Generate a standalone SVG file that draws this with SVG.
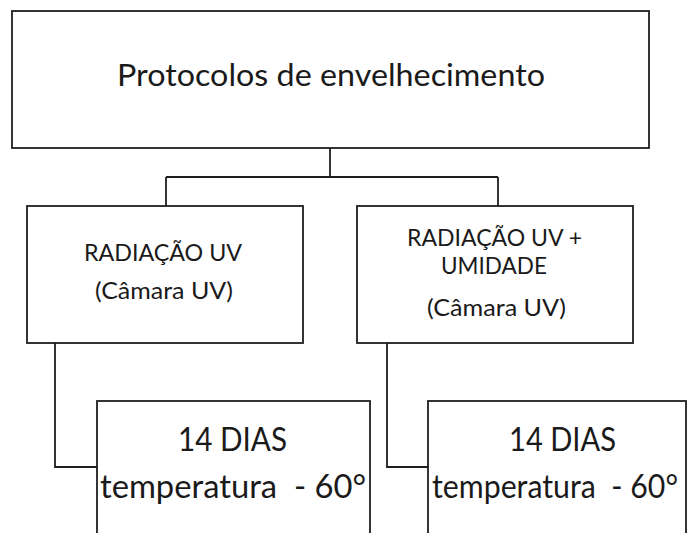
<svg xmlns="http://www.w3.org/2000/svg" width="690" height="533" viewBox="0 0 690 533">
  <style>
    .box { fill: #ffffff; stroke: #1e1e1e; stroke-width: 1.8; }
    .conn { fill: none; stroke: #1e1e1e; stroke-width: 1.8; }
    text { font-family: Lato, "Open Sans", "Liberation Sans", sans-serif; fill: #1a1a1a; white-space: pre; }
    .t1 { font-size: 31px; }
    .t2 { font-size: 24px; }
    .t3 { font-size: 32px; }
  </style>
  <rect width="690" height="533" fill="#ffffff"/>
  <g id="connectors">
    <path class="conn" d="M330,148 V177 M166,177 H498 M166,177 V206 M498,177 V206"/>
    <path class="conn" d="M55,343 V467 H97"/>
    <path class="conn" d="M387,343 V467 H428"/>
  </g>
  <g id="node-protocolos">
    <rect class="box" x="12" y="11" width="637" height="137"/>
    <text class="t1" x="117" y="86" textLength="428" lengthAdjust="spacingAndGlyphs">Protocolos de envelhecimento</text>
  </g>
  <g id="node-radiacao-uv">
    <rect class="box" x="27" y="206" width="276" height="137"/>
    <text class="t2" x="84" y="261" textLength="158" lengthAdjust="spacingAndGlyphs">RADIAÇÃO UV</text>
    <text class="t2" x="95" y="299" textLength="138" lengthAdjust="spacingAndGlyphs">(Câmara UV)</text>
  </g>
  <g id="node-radiacao-uv-umidade">
    <rect class="box" x="357" y="206" width="276" height="137"/>
    <text class="t2" x="407" y="246" textLength="175" lengthAdjust="spacingAndGlyphs">RADIAÇÃO UV +</text>
    <text class="t2" x="441" y="274" textLength="106" lengthAdjust="spacingAndGlyphs">UMIDADE</text>
    <text class="t2" x="427" y="316" textLength="139" lengthAdjust="spacingAndGlyphs">(Câmara UV)</text>
  </g>
  <g id="node-14dias-1">
    <rect class="box" x="97" y="401" width="273" height="150"/>
    <text class="t3" x="178" y="451" textLength="109" lengthAdjust="spacingAndGlyphs">14 DIAS</text>
    <text class="t3" x="100" y="498" textLength="266" lengthAdjust="spacingAndGlyphs">temperatura  - 60°</text>
  </g>
  <g id="node-14dias-2">
    <rect class="box" x="428" y="401" width="258" height="150"/>
    <text class="t3" x="509" y="451" textLength="107" lengthAdjust="spacingAndGlyphs">14 DIAS</text>
    <text class="t3" x="432" y="498" textLength="246" lengthAdjust="spacingAndGlyphs">temperatura  - 60°</text>
  </g>
</svg>
